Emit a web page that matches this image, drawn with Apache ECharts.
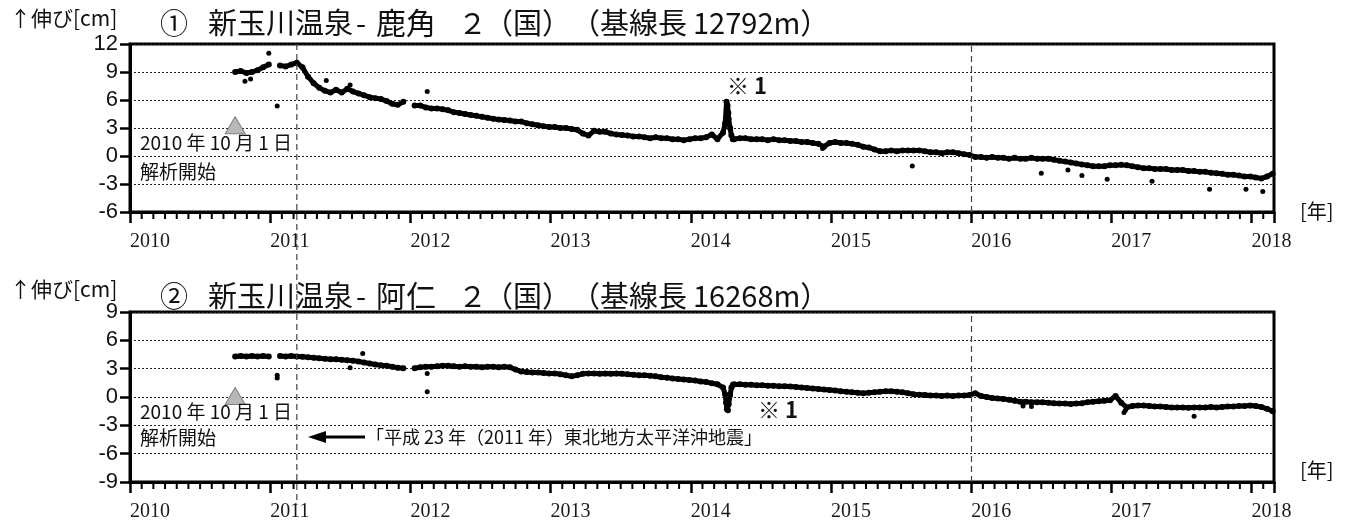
<!DOCTYPE html>
<html><head><meta charset="utf-8">
<script src="https://cdn.jsdelivr.net/npm/echarts@6/dist/echarts.min.js"></script>
<style>html,body{margin:0;padding:0;background:#fff}#c{width:1353px;height:524px}</style>
</head><body><div id="c"></div>
<script>
// ---------------- data ----------------
const xMin = 2010, xMax = 2018.16;
const sampleStart = 2010.75;      // first sample (decimal year)
const sampleStep = 0.04;          // sampling grid of the listed values (years)
const quakeTime = 2011.19;        // 2011-03-11
const changeTime = 2016.0;
const analysisStart = 2010.75;    // 2010-10-01
const yRange1 = [-6, 12], yRange2 = [-9, 9];

// ① 新玉川温泉-鹿角2  (cm)
const s1Values = [9.0,9.1,8.9,9.0,9.2,9.5,9.8,null,9.7,9.6,9.8,10.0,9.5,8.5,7.8,7.3,7.0,6.8,7.1,6.8,
7.2,6.9,6.7,6.5,6.3,6.2,6.1,5.9,5.6,5.5,5.8,null,5.4,5.4,5.2,5.1,5.1,5.0,4.9,4.7,
4.6,4.5,4.4,4.3,4.2,4.1,4.0,3.9,3.85,3.8,3.7,3.7,3.5,3.4,3.3,3.2,3.1,3.1,3.0,3.0,
2.9,2.8,2.4,2.2,2.7,2.6,2.6,2.4,2.3,2.25,2.2,2.1,2.1,2.0,1.9,2.0,1.9,1.9,1.8,1.8,
1.7,1.8,1.9,1.9,2.0,2.3,1.8,2.5,4.0,1.8,1.9,1.9,1.8,1.8,1.8,1.7,1.8,1.7,1.7,1.6,
1.6,1.5,1.5,1.4,1.3,1.0,1.4,1.5,1.4,1.4,1.3,1.2,1.0,0.9,0.7,0.5,0.5,0.6,0.5,0.6,
0.6,0.6,0.6,0.5,0.4,0.4,0.3,0.4,0.4,0.3,0.2,0.1,-0.1,-0.1,-0.2,-0.1,-0.2,-0.2,-0.3,-0.2,
-0.3,-0.3,-0.2,-0.3,-0.3,-0.3,-0.4,-0.5,-0.6,-0.7,-0.8,-0.9,-1.0,-1.1,-1.1,-1.1,-1.0,-1.0,-0.95,-1.0,
-1.1,-1.2,-1.3,-1.3,-1.4,-1.4,-1.4,-1.5,-1.5,-1.5,-1.6,-1.6,-1.7,-1.7,-1.8,-1.85,-1.9,-2.0,-2.0,-2.1,
-2.2,-2.2,-2.3,-2.4,-2.2,-1.9];
const s1Event = [[2014.245,3.5],[2014.255,5.8],[2014.262,5.4],[2014.268,4.6],[2014.28,3.0],[2014.29,2.2],[2014.30,1.8]];
const s1Outliers = [[2010.82,8.0],[2010.86,8.25],[2010.99,11.0],[2011.05,5.35],[2011.40,8.1],[2011.57,7.6],
[2012.12,6.9],[2014.94,0.8],[2015.58,-1.07],[2016.50,-1.86],[2016.69,-1.5],[2016.79,-2.1],[2016.97,-2.5],
[2017.29,-2.7],[2017.70,-3.57],[2017.96,-3.57],[2018.08,-3.8]];

// ② 新玉川温泉-阿仁2  (cm)
const s2Values = [4.3,4.35,4.3,4.35,4.3,4.35,4.3,null,4.35,4.3,4.35,4.3,4.25,4.2,4.15,4.1,4.05,4.0,4.0,3.95,
3.9,3.85,3.75,3.65,3.55,3.45,3.35,3.3,3.2,3.1,3.05,null,3.05,3.15,3.2,3.2,3.25,3.3,3.3,3.25,
3.2,3.25,3.2,3.2,3.15,3.2,3.2,3.15,3.2,3.15,2.9,2.7,2.65,2.6,2.6,2.55,2.5,2.5,2.4,2.3,
2.2,2.3,2.45,2.5,2.5,2.45,2.5,2.45,2.5,2.45,2.4,2.35,2.3,2.3,2.25,2.2,2.1,2.05,1.95,1.9,
1.85,1.8,1.75,1.65,1.6,1.45,1.35,1.0,-0.8,1.35,1.35,1.3,1.3,1.25,1.25,1.2,1.2,1.15,1.15,1.1,
1.05,1.0,0.95,0.9,0.85,0.8,0.75,0.7,0.6,0.55,0.5,0.45,0.4,0.45,0.5,0.55,0.6,0.6,0.55,0.5,
0.4,0.3,0.25,0.2,0.15,0.15,0.1,0.15,0.1,0.15,0.15,0.2,0.4,0.1,0.0,-0.1,-0.15,-0.2,-0.3,-0.4,
-0.5,-0.5,-0.55,-0.55,-0.55,-0.6,-0.65,-0.7,-0.7,-0.75,-0.7,-0.65,-0.55,-0.5,-0.45,-0.4,-0.35,0.1,-0.6,-1.1,
-0.95,-0.9,-0.9,-0.95,-1.0,-1.0,-1.05,-1.1,-1.1,-1.1,-1.15,-1.1,-1.1,-1.1,-1.05,-1.1,-1.05,-1.0,-1.0,-0.95,
-0.95,-0.9,-0.95,-1.05,-1.25,-1.5];
const s2Event = [[2014.245,0.3],[2014.252,-0.6],[2014.258,-1.3],[2014.265,-1.4],[2014.28,0.2],[2014.29,1.0],[2014.30,1.3]];
const s2Outliers = [[2011.05,2.0],[2011.05,2.3],[2011.57,3.1],[2011.66,4.6],[2012.12,2.5],[2012.12,0.56],
[2016.37,-0.95],[2016.43,-1.0],[2017.09,-1.65],[2017.10,-1.4],[2017.59,-2.05]];

const triangleY1 = 3.3, triangleY2 = 0.1;

// ---------------- build ----------------
function build(values, events) {
  const out = [];
  values.forEach((v, i) => {
    const t = +(sampleStart + sampleStep * i).toFixed(3);
    out.push([t, v === null ? '-' : v]);
  });
  events.forEach(p => out.push(p));
  out.sort((a, b) => a[0] - b[0]);
  return out;
}
// monthly minor-tick positions along the time axis
const monthValues = [];
for (let m = 1; xMin + m / 12 < xMax; m++) { if (m % 12 !== 0) monthValues.push(xMin + m / 12); }

const fmtYear = v => Math.abs(v - Math.round(v)) < 1e-6 ? String(Math.round(v)) : '';
const BLACK = '#000';
const JP = '"Noto Sans CJK JP", "Noto Sans", sans-serif';

function xMajor(gi) {
  return { type: 'value', gridIndex: gi, min: xMin, max: xMax, interval: 1, position: 'bottom',
    axisLine: { show: true, onZero: false, lineStyle: { color: BLACK, width: 3 } },
    axisTick: { show: true, length: 11, lineStyle: { color: BLACK, width: 2.5 } },
    axisLabel: { show: true, formatter: fmtYear, align: 'left', margin: 20, color: '#1a1a1a',
      fontFamily: '"Liberation Serif", serif', fontSize: 20 },
    splitLine: { show: false } };
}
function yAxis(gi, r) {
  return { type: 'value', gridIndex: gi, min: r[0], max: r[1], interval: 3,
    axisLine: { show: true, onZero: false, lineStyle: { color: BLACK, width: 3 } },
    axisTick: { show: true, length: 10, lineStyle: { color: BLACK, width: 2.5 } },
    axisLabel: { margin: 12, fontSize: 22, color: '#111', fontFamily: '"Liberation Sans", Arial, sans-serif' },
    splitLine: { show: true, lineStyle: { type: [2, 2], color: '#222', width: 1 } } };
}
function mainSeries(xi, yi, data) {
  return { type: 'line', xAxisIndex: xi, yAxisIndex: yi, data: data, symbol: 'circle', symbolSize: 6,
    showSymbol: true, showAllSymbol: true, connectNulls: false, z: 3,
    lineStyle: { width: 5, color: BLACK }, itemStyle: { color: BLACK, opacity: 1 },
    markLine: { silent: true, symbol: ['none', 'none'], label: { show: false },
      lineStyle: { type: [6, 4], color: '#444', width: 1.2 }, data: [{ xAxis: changeTime }] } };
}
function outl(xi, yi, data) {
  return { type: 'scatter', xAxisIndex: xi, yAxisIndex: yi, data: data, symbolSize: 5,
    itemStyle: { color: BLACK, opacity: 1 }, z: 3 };
}
function tri(xi, yi, y) {
  return { type: 'scatter', xAxisIndex: xi, yAxisIndex: yi, data: [[analysisStart, y]], symbol: 'triangle',
    symbolSize: [20, 17], itemStyle: { color: '#b8b8b8', borderColor: '#808080', borderWidth: 1, opacity: 1 }, z: 6 };
}

const chart = echarts.init(document.getElementById('c'));
chart.setOption({
  animation: false,
  backgroundColor: '#fff',
  grid: [
    { left: 130, top: 44, width: 1144, height: 168, show: true, borderColor: BLACK, borderWidth: 3, containLabel: false },
    { left: 130, top: 312, width: 1144, height: 170, show: true, borderColor: BLACK, borderWidth: 3, containLabel: false }
  ],
  xAxis: [xMajor(0), xMajor(1)],
  yAxis: [yAxis(0, yRange1), yAxis(1, yRange2)],
  series: [
    mainSeries(0, 0, build(s1Values, s1Event)), outl(0, 0, s1Outliers), tri(0, 0, triangleY1),
    mainSeries(1, 1, build(s2Values, s2Event)), outl(1, 1, s2Outliers), tri(1, 1, triangleY2)
  ]
});

const qx = chart.convertToPixel({ xAxisIndex: 0, yAxisIndex: 0 }, [quakeTime, 0])[0];
const yTop = chart.convertToPixel({ xAxisIndex: 0, yAxisIndex: 0 }, [quakeTime, yRange1[1]])[1];

// monthly minor ticks positioned through the axes' own scales
const tickEls = [];
[[0, yRange1[0]], [1, yRange2[0]]].forEach(([idx, yb]) => {
  monthValues.forEach(v => {
    const p = chart.convertToPixel({ xAxisIndex: idx, yAxisIndex: idx }, [v, yb]);
    tickEls.push({ type: 'line', silent: true, z: 20,
      shape: { x1: p[0], y1: p[1] + 1, x2: p[0], y2: p[1] + 7 }, style: { stroke: BLACK, lineWidth: 2 } });
  });
});

function txt(x, y, text, font, extra) {
  return Object.assign({ type: 'text', silent: true, z: 10,
    style: { x: x, y: y, text: text, font: font, fill: '#111', align: 'left', verticalAlign: 'middle' } }, extra || {});
}
const titleFont = '29px ' + JP;
function title(y, num, place, base) {
  return [
    txt(160, y, num, '28px ' + JP), txt(208, y, '新玉川温泉', titleFont), txt(356, y, '-', titleFont),
    txt(376, y, place, '30px ' + JP), txt(458, y, '２', titleFont),
    txt(484, y, '（国）', titleFont), txt(571, y, '（基線長', titleFont), txt(693, y, base + 'm）', titleFont)
  ];
}
const g = [].concat(
  [txt(10, 18, '↑伸び[cm]', '21px ' + JP), txt(10, 289, '↑伸び[cm]', '21px ' + JP)],
  title(23, '①', '鹿角', '12792'), title(296, '②', '阿仁', '16268'),
  [txt(1300, 211, '[年]', '20px ' + JP), txt(1300, 470, '[年]', '20px ' + JP),
   txt(140, 143, '2010 年 10 月 1 日', '19px ' + JP), txt(140, 172, '解析開始', '19px ' + JP),
   txt(140, 412, '2010 年 10 月 1 日', '19px ' + JP), txt(140, 438, '解析開始', '19px ' + JP),
   txt(727, 86, '※ 1', 'bold 22px ' + JP), txt(758, 410, '※ 1', 'bold 22px ' + JP),
   txt(366, 437, '「平成 23 年（2011 年）東北地方太平洋沖地震」', '18px ' + JP),
   { type: 'line', silent: true, z: 10, shape: { x1: 324, y1: 437, x2: 365, y2: 437 }, style: { stroke: BLACK, lineWidth: 3 } },
   { type: 'polygon', silent: true, z: 10, shape: { points: [[308, 437], [326, 431], [326, 443]] }, style: { fill: BLACK } },
   { type: 'line', silent: true, z: 9, shape: { x1: qx, y1: yTop, x2: qx, y2: 505 },
     style: { stroke: '#444', lineWidth: 1.2, lineDash: [6, 4] } }],
  tickEls
);
chart.setOption({ graphic: g });
</script>
</body></html>
